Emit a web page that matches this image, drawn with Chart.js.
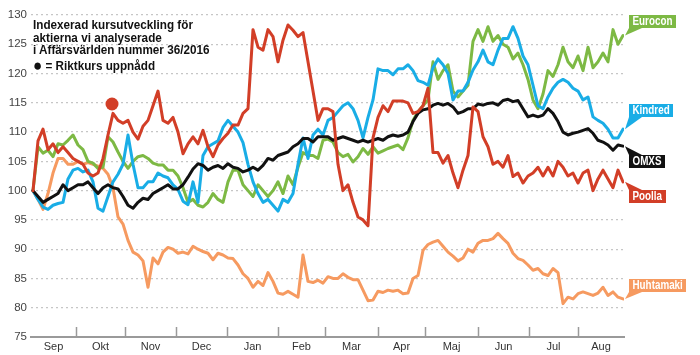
<!DOCTYPE html>
<html>
<head>
<meta charset="utf-8">
<script src="https://cdn.jsdelivr.net/npm/chart.js@4.4.1/dist/chart.umd.min.js"></script>
<style>
  html, body { margin: 0; padding: 0; background: #fff; }
  #wrap { position: relative; width: 700px; height: 355px; }
  #title { position: absolute; left: 33px; top: 19px; font: bold 13px "Liberation Sans", Arial, sans-serif; line-height: 12.7px; color: #111; transform: scaleX(0.9); transform-origin: 0 0; white-space: nowrap; }
  #title .leg { margin-top: 2.5px; line-height: 12.7px; }
  #title .dot { font-size: 17px; line-height: 12px; vertical-align: -1px; }
</style>
</head>
<body>
<div id="wrap">
  <canvas id="c" width="700" height="355"></canvas>
  <div id="title">Indexerad kursutveckling för<br>aktierna vi analyserade<br>i Affärsvärlden nummer 36/2016<div class="leg"><span class="dot">●</span> = Riktkurs uppnådd</div></div>
</div>
<script>
// ---- data (one value every ~2 trading days, Sep 2016 – Aug 2017) ----
const months = ['Sep','Okt','Nov','Dec','Jan','Feb','Mar','Apr','Maj','Jun','Jul','Aug'];
const monthEdges = [-0.4, 8.6, 18.4, 28.6, 38.8, 49, 58.4, 69, 78.4, 89, 99.2, 109, 118.2];
const yTicks = [75, 80, 85, 90, 95, 100, 105, 110, 115, 120, 125, 130];

const omxs = [100,99,98,98.5,99,99.5,101,100,100.5,101,101,101.5,100.5,99.5,100.5,101,100.5,100.3,99,97.5,
97,98,98.7,98.5,99.5,100,100.5,101,100.3,100.3,101,102.3,103.7,104.6,104.3,103.5,104,104.3,103.8,104.6,
104,103.8,103.2,103.5,104,103.5,104.3,105.5,105.2,106,106.3,106.6,107.5,108,108.9,108.9,108.3,109.2,109.2,109.2,
108.6,108.9,109.2,108.9,108.6,108.3,108.6,108.3,108.6,108.9,108.6,109.2,109.5,109.3,109.5,110,111.8,113.2,113.8,114,
114.6,114.9,114.6,114.9,114.3,113.2,113.5,114,114,114.8,114.6,114.9,115,114.6,115.4,115.6,115.2,115.4,114,112.6,
112.9,112.6,112.9,114,113.2,111.8,110,109.5,109.8,110,110.3,110.6,109.8,108.6,108.3,107.8,106.9,107.8,107.6];

const poolla = [100,108.5,110.5,107,108,106.5,107.5,106.5,105.5,105,104.5,103,102.5,103,105.5,109.5,113.2,112,111.5,112,
110,108.8,111,112,114.5,117,112,111.5,112.5,110,106.3,108,109.2,108,110.3,107.5,105.8,107.8,108.9,109.8,
111.2,111.2,113.2,114,127.5,124.5,124,127.5,126.3,122,125.7,128.3,127.4,126.3,127,122,117,112,114,114,
113.5,104.5,100,101,98,95.5,95,94,109,112.5,114.5,113.5,115.3,115.3,115.3,115,113.2,113.5,114.5,117.5,
106.5,106.5,104.7,106,103,100.5,103.5,106,114.3,113.5,109.2,107.5,104.5,105,104,106,102.4,103,101.3,102.5,
103,104,102.5,104,102.5,105,104,102.5,103,101.3,103,103.5,100,102,103.5,102,100.5,103.5,101.5];

const eurocon = [100,107.5,106.4,106.9,105.8,108,107.8,108.6,109.5,107.8,107,105,104.7,103.8,104,109.2,108.3,106.6,105,103.8,
105,105.8,106,105.5,104.7,104.4,104.4,103.5,103.5,102.5,100.5,98,98.5,97.5,97.2,98,99.5,98.5,98,101.5,
103.5,103.5,101,100,99,101,100,99,100,101.5,99.5,102.5,101,104,106.5,106,106,105.5,108.6,108.8,
108.3,106.5,105.8,106.2,104.9,105.8,107.2,106.2,107.5,106.4,106.8,107.2,107.5,107.8,107,109,112,113.5,114.5,115.5,
122,119,120.5,121.5,117,116,117,118,125.5,127.5,125.5,128,125.5,126.5,125,124.5,122.5,123.5,121.5,119,
115.5,114,116.5,120.5,119.5,121.5,124.5,122,121,123,120.5,124.5,121,122,123.5,122,127.5,125,126.5];

const kindred = [100,98.5,97.2,96.8,97.5,97.8,98,102,103.5,103.8,103.2,103.5,101.5,97,96.5,99,101.5,102.8,104.5,109.5,
104.5,100.5,100.5,101.5,101.5,103,102.5,102.2,101,100.2,98.2,97.6,101.5,98,106,107.5,108,108.5,110.8,112,
111,110,108.2,104.5,101.5,99.5,98,98.5,97.5,96.5,98.5,98,99.5,104.5,109,105.5,109.5,110.5,109.5,112,
112.5,113.5,114.5,115,114,112,109,112.5,115.5,120.8,120.5,120.5,119.8,120.8,120.8,121.5,120.5,118.8,118.5,118,
121,122.5,121.5,120,115.5,117,117,118.5,120.6,122,124,122,121.5,124,126,126,128,126,123,121.5,
118,114.5,114,116,117.5,118.5,119,118.5,117.5,117,115.5,116,112.6,112,111.5,110.5,109,109,110.5];

const huhtamaki = [100,98.5,96.8,99.5,103,105.5,105.5,104.5,104.5,105,104.5,104.8,104.5,104.2,103.8,102.8,100.5,95.5,94.3,91.5,
89.5,89,88,83.5,88.5,87.5,89.5,90.3,90,89.3,89.5,89.2,90.5,90,89.6,89.3,88.2,89.3,89,88.5,
88.4,87.3,85.8,85,83.5,84.5,83.8,86,84.5,82.5,82.3,82.8,82.3,81.8,89,84.5,84.3,84.7,84.2,85.3,
85,85,85.8,85.2,84.8,84.8,83,81.2,81.3,82.8,82.6,83,82.8,83,82.4,82.5,85,85.5,89.8,90.8,
91.2,91.5,90.5,89.5,88.8,88,88.5,90,89.5,91,91.5,91.5,91.8,92.7,91.8,91,89.3,88.4,88.1,87.3,
86.4,86.7,85.8,85.5,86.7,86,80.7,81.8,81.5,82.4,82.7,82.4,82.1,82.5,83.5,82.1,82.7,81.8,81.5];

// target price reached (Poolla)
const riktkurs = [{ x: 15.8, y: 114.8 }];

// ---- styling ----
const colors = { Poolla: '#d23e27', OMXS: '#111111', Kindred: '#19ade6', Eurocon: '#7db944', Huhtamaki: '#f69a60' };
const callouts = [
  { series: 'Eurocon', dy: -14 },
  { series: 'Kindred', dy: -19 },
  { series: 'OMXS', dy: 15 },
  { series: 'Poolla', dy: 15 },
  { series: 'Huhtamaki', dy: -13 }
];
const monthCenters = months.map((m, i) => (monthEdges[i] + monthEdges[i + 1]) / 2);
const toXY = arr => arr.map((v, i) => ({ x: i, y: v }));
const lineDs = (label, arr) => ({
  label, data: toXY(arr), borderColor: colors[label], backgroundColor: colors[label],
  borderWidth: 3, pointRadius: 0, tension: 0, borderJoinStyle: 'round', borderCapStyle: 'round', fill: false
});

const monthTicks = {
  id: 'monthTicks',
  beforeDatasetsDraw(chart) {
    const { ctx, scales: { x }, chartArea: a } = chart;
    ctx.save();
    ctx.strokeStyle = '#9a9a9a';
    ctx.lineWidth = 1.5;
    monthEdges.slice(1, -1).forEach(v => {
      const px = Math.round(x.getPixelForValue(v)) + 0.5;
      ctx.beginPath();
      ctx.moveTo(px, a.bottom - 10);
      ctx.lineTo(px, a.bottom);
      ctx.stroke();
    });
    ctx.restore();
  }
};

const endLabels = {
  id: 'endLabels',
  afterDatasetsDraw(chart) {
    const ctx = chart.ctx;
    const sx = 0.82;
    ctx.save();
    ctx.font = 'bold 12px "Liberation Sans", Arial, sans-serif';
    callouts.forEach(c => {
      const idx = chart.data.datasets.findIndex(d => d.label === c.series);
      const meta = chart.getDatasetMeta(idx);
      const pt = meta.data[meta.data.length - 1];
      const tx = pt.x + 2, ty = pt.y;
      const tw = ctx.measureText(c.series).width * sx;
      const w = Math.round(tw) + 7, h = 13;
      const bx = chart.chartArea.right + 5;
      const by = Math.round(ty + c.dy - h / 2);
      ctx.fillStyle = colors[c.series];
      const ey = c.dy < 0 ? by + h : by;
      ctx.beginPath();
      ctx.moveTo(bx, ey);
      ctx.lineTo(bx + 13, ey);
      ctx.lineTo(tx, ty);
      ctx.closePath();
      ctx.fill();
      ctx.fillRect(bx, by, w, h);
      ctx.fillStyle = '#fff';
      ctx.textBaseline = 'middle';
      ctx.save();
      ctx.translate(bx + 3.5, by + h / 2 + 0.5);
      ctx.scale(sx, 1);
      ctx.fillText(c.series, 0, 0);
      ctx.restore();
    });
    ctx.restore();
  }
};

new Chart(document.getElementById('c'), {
  type: 'line',
  data: {
    datasets: [
      { label: 'Riktkurs', data: riktkurs, showLine: false, pointRadius: 6.5, pointHoverRadius: 6.5,
        pointBackgroundColor: colors.Poolla, pointBorderWidth: 0, borderColor: colors.Poolla },
      lineDs('Poolla', poolla),
      lineDs('OMXS', omxs),
      lineDs('Kindred', kindred),
      lineDs('Eurocon', eurocon),
      lineDs('Huhtamaki', huhtamaki)
    ]
  },
  options: {
    responsive: false,
    animation: false,
    events: [],
    layout: { padding: { left: 0, right: 76, top: 15, bottom: 0 } },
    plugins: { legend: { display: false }, tooltip: { enabled: false }, title: { display: false } },
    scales: {
      x: {
        type: 'linear',
        min: monthEdges[0],
        max: monthEdges[monthEdges.length - 1],
        afterBuildTicks: s => { s.ticks = monthCenters.map(v => ({ value: v })); },
        afterFit: s => { s.height = 18; },
        grid: { display: false, drawTicks: false },
        border: { display: true, color: '#9a9a9a', width: 2 },
        ticks: {
          autoSkip: false, maxRotation: 0, padding: 3, color: '#333',
          font: { family: '"Liberation Sans", Arial, sans-serif', size: 11 },
          callback: (v, i) => months[i]
        }
      },
      y: {
        min: 75,
        max: 130,
        afterBuildTicks: s => { s.ticks = yTicks.map(v => ({ value: v })); },
        afterFit: s => { s.width = 31; },
        grid: { color: '#c6c6c6', lineWidth: 1.2, drawTicks: false },
        border: { display: false, dash: [2, 3] },
        ticks: {
          padding: 4, color: '#444',
          font: { family: '"Liberation Sans", Arial, sans-serif', size: 11.5 }
        }
      }
    }
  },
  plugins: [monthTicks, endLabels]
});
</script>
</body>
</html>
